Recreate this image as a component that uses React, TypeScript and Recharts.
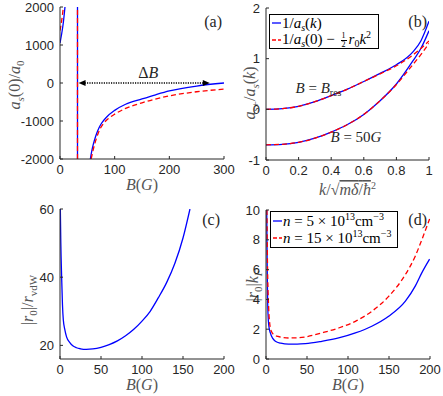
import React from "react";
import { LineChart, Line, XAxis, YAxis, ReferenceLine, ReferenceDot } from "recharts";

const BLUE = "#0000ff";
const RED = "#ff0000";
const INK = "#262626";
const TITLE = "#555555";
const SANS = "'Liberation Sans', Arial, sans-serif";
const SERIF = "'Liberation Serif', 'Times New Roman', serif";

// (a) a_s(0)/a_0 against B
const aTicksX = [0, 100, 200, 300];
const aTicksY = [-2000, -1000, 0, 1000, 2000];
const aResonance = 32;
const aWidthFrom = 34;
const aWidthTo = 274;
const aBlueLeftB = [0, 3, 6, 9.1];
const aBlueLeftVal = [1050, 1290, 1580, 2000];
const aRedLeftB = [0, 2, 4, 6.2];
const aRedLeftVal = [1380, 1540, 1740, 2000];
const aBlueRightB = [55.5, 58, 61, 64, 67, 71, 76, 85, 100, 120, 150, 175, 200, 250, 300];
const aBlueRightVal = [-2000, -1800, -1610, -1460, -1330, -1190, -1060, -900, -720, -560, -420, -310, -210, -80, 0];
const aRedRightB = [57, 60, 63, 67, 72, 80, 90, 100, 120, 150, 200, 250, 300];
const aRedRightVal = [-2000, -1800, -1630, -1440, -1250, -1060, -920, -820, -670, -520, -340, -230, -160];

// (b) a_s+/a_s(k) against k
const bTicksX = [0, 0.2, 0.4, 0.6, 0.8, 1];
const bTicksY = [-1, 0, 1, 2];
const bK = [0, 0.1, 0.2, 0.3, 0.4, 0.5, 0.6, 0.7, 0.8, 0.9, 0.95, 1];
const bResExact = [0, 0.015, 0.06, 0.15, 0.27, 0.4, 0.55, 0.71, 0.88, 1.13, 1.35, 1.74];
const bResApprox = [0, 0.015, 0.06, 0.15, 0.27, 0.4, 0.55, 0.7, 0.86, 1.07, 1.2, 1.35];
const b50Exact = [-0.7, -0.69, -0.65, -0.57, -0.45, -0.3, -0.1, 0.17, 0.5, 0.95, 1.2, 1.55];
const b50Approx = [-0.7, -0.69, -0.65, -0.57, -0.45, -0.3, -0.1, 0.17, 0.49, 0.88, 1.08, 1.3];

// (c) |r0|/r_vdW against B
const cTicksX = [0, 50, 100, 150, 200];
const cTicksY = [20, 40, 60];
const cB = [0.4, 1, 2, 3, 4, 6, 8, 12, 16, 20, 25, 32, 40, 50, 60, 70, 80, 90, 100, 110, 120, 130, 140, 150, 158.5];
const cR = [60, 50, 40, 32, 27.6, 24.5, 22.5, 20.8, 19.8, 19.3, 19.0, 18.85, 18.95, 19.4, 20.2, 21.3, 22.8, 24.7, 27.1, 30, 34, 38.4, 44, 51.5, 60];

// (d) |r0| kF against B
const dTicksX = [0, 50, 100, 150, 200];
const dTicksY = [0, 2, 4, 6, 8, 10];
const dLowB = [0.9, 1.5, 2.4, 3.5, 5.3, 8, 11.4, 18, 27.6, 38, 48, 68, 88.6, 109, 129, 149.6, 170, 182, 190, 199.5];
const dLowVal = [10, 6, 3.1, 2.2, 1.75, 1.4, 1.19, 1.06, 1.0, 1.0, 1.03, 1.19, 1.41, 1.75, 2.2, 2.87, 3.88, 4.89, 5.78, 6.7];
const dHighB = [1.1, 1.8, 3.2, 4.5, 6.5, 10, 14.6, 20, 27.6, 38, 48, 68, 88.6, 109, 129, 149.6, 170, 182, 190, 199.5];
const dHighVal = [10, 6.5, 3.5, 2.4, 1.86, 1.62, 1.52, 1.45, 1.41, 1.42, 1.48, 1.75, 2.08, 2.53, 3.2, 4.2, 5.67, 6.9, 8.0, 9.4];

const zip = (xs: number[], ys: number[]) => xs.map((x, i) => ({ x, y: ys[i] }));

const tickFont = { fill: INK, fontSize: 13, fontFamily: SANS };
const axisLook = { stroke: INK, tickSize: -3, tickMargin: 9, tick: tickFont, interval: 0 as const, allowDataOverflow: true };
const solid = { stroke: BLUE, strokeWidth: 1.3, dot: false, isAnimationActive: false, type: "monotone" as const, dataKey: "y" };
const dashed = { ...solid, stroke: RED, strokeDasharray: "5 3" };

// top and right edges of the MATLAB-style box, ticks pointing in
const boxAxes = (xd: number[], xt: number[], yd: number[], yt: number[]) => [
  <XAxis key="xt" xAxisId="top" orientation="top" type="number" dataKey="x" domain={xd} ticks={xt} height={0} tick={false} tickSize={-3} stroke={INK} allowDataOverflow />,
  <YAxis key="yr" yAxisId="right" orientation="right" type="number" domain={yd} ticks={yt} width={0} tick={false} tickSize={-3} stroke={INK} allowDataOverflow />,
];

const xTitle = (dy: number, body: React.ReactNode) => ({
  content: ({ viewBox }: any) => (
    <text x={viewBox.x + viewBox.width / 2} y={viewBox.y + dy} textAnchor="middle" fontFamily={SERIF} fontSize={16} fill={TITLE}>
      {body}
    </text>
  ),
});

const yTitle = (bx: number, shift: number, body: React.ReactNode) => ({
  content: ({ viewBox }: any) => {
    const cx = viewBox.x + bx;
    const cy = viewBox.y + viewBox.height / 2 + shift;
    return (
      <text x={cx} y={cy} transform={`rotate(-90 ${cx} ${cy})`} textAnchor="middle" fontFamily={SERIF} fontSize={16} fill={TITLE}>
        {body}
      </text>
    );
  },
});

const tag = (text: string, dx: number, dy: number) => (p: any) => (
  <text x={p.cx + dx} y={p.cy + dy} textAnchor="end" fontFamily={SERIF} fontSize={16} fill={INK}>
    {text}
  </text>
);

const note = (body: React.ReactNode) => (p: any) => (
  <text x={p.cx} y={p.cy} textAnchor="middle" fontFamily={SERIF} fontSize={15} fill={INK}>
    {body}
  </text>
);

const BG = (
  <>
    <tspan fontStyle="italic">B</tspan>(<tspan fontStyle="italic">G</tspan>)
  </>
);

const DeltaArrow = (p: any) => {
  const { x1, y1, x2, y2 } = p;
  return (
    <g>
      <line x1={x1 + 6} y1={y1} x2={x2 - 6} y2={y2} stroke="#000" strokeWidth={1.4} strokeDasharray="1.2 1.2" />
      <polygon points={`${x1},${y1} ${x1 + 7},${y1 - 3} ${x1 + 7},${y1 + 3}`} fill="#000" />
      <polygon points={`${x2},${y2} ${x2 - 7},${y2 - 3} ${x2 - 7},${y2 + 3}`} fill="#000" />
      <text x={(x1 + x2) / 2 + 4} y={y1 - 5} textAnchor="middle" fontFamily={SERIF} fontSize={16} fill={INK}>
        Δ<tspan fontStyle="italic">B</tspan>
      </text>
    </g>
  );
};

const Sample = ({ color, dash }: { color: string; dash?: string }) => (
  <svg width={9} height={6} style={{ marginRight: 1, flex: "none" }}>
    <line x1={0} y1={3} x2={9} y2={3} stroke={color} strokeWidth={1.3} strokeDasharray={dash} />
  </svg>
);

const Half = () => (
  <span style={{ display: "inline-flex", flexDirection: "column", alignItems: "center", fontSize: 8, lineHeight: "8px", fontStyle: "normal", margin: "0 2px", verticalAlign: "middle" }}>
    <span style={{ borderBottom: "1px solid #000", padding: "0 1px" }}>1</span>
    <span>2</span>
  </span>
);

const keyBox = (left: number, top: number, width: number, height: number): React.CSSProperties => ({
  position: "absolute",
  left,
  top,
  width,
  height,
  boxSizing: "border-box",
  border: "1px solid #000",
  background: "#fff",
  fontFamily: SERIF,
  fontSize: 15,
  color: "#000",
  display: "flex",
  flexDirection: "column",
  justifyContent: "space-around",
  padding: "0 2px",
  whiteSpace: "nowrap",
});
const row: React.CSSProperties = { display: "flex", alignItems: "center", height: 16, lineHeight: "16px" };
const sub: React.CSSProperties = { fontSize: 10, verticalAlign: "-3px", lineHeight: 0 };
const sup: React.CSSProperties = { fontSize: 10, verticalAlign: "6px", lineHeight: 0 };

function PanelA() {
  return (
    <div style={{ position: "absolute", left: 0, top: 0, width: 240, height: 200 }}>
      <LineChart width={240} height={200} margin={{ top: 7, right: 16, bottom: 0, left: 0 }}>
        <XAxis type="number" dataKey="x" domain={[0, 300]} ticks={aTicksX} height={41} {...axisLook} label={xTitle(31, BG)} />
        <YAxis type="number" domain={[-2000, 2000]} ticks={aTicksY} width={60} {...axisLook}
          label={yTitle(20, 2, (
            <>
              <tspan fontStyle="italic">a</tspan>
              <tspan fontStyle="italic" fontSize={11} dy={4}>s</tspan>
              <tspan dy={-4}>(0)/</tspan>
              <tspan fontStyle="italic">a</tspan>
              <tspan fontSize={11} dy={4}>0</tspan>
            </>
          ))} />
        {boxAxes([0, 300], aTicksX, [-2000, 2000], aTicksY)}
        <ReferenceLine x={aResonance} stroke={BLUE} strokeWidth={1.3} />
        <ReferenceLine x={aResonance} stroke={RED} strokeWidth={1.3} strokeDasharray="5 3" />
        <Line {...solid} data={zip(aBlueLeftB, aBlueLeftVal)} />
        <Line {...dashed} data={zip(aRedLeftB, aRedLeftVal)} />
        <Line {...solid} data={zip(aBlueRightB, aBlueRightVal)} />
        <Line {...dashed} data={zip(aRedRightB, aRedRightVal)} />
        <ReferenceLine segment={[{ x: aWidthFrom, y: 0 }, { x: aWidthTo, y: 0 }]} shape={DeltaArrow} />
        <ReferenceDot x={300} y={2000} r={0} ifOverflow="visible" shape={tag("(a)", -2, 20)} />
      </LineChart>
    </div>
  );
}

function PanelB() {
  return (
    <div style={{ position: "absolute", left: 222, top: 0, width: 218, height: 200 }}>
      <LineChart width={218} height={200} margin={{ top: 8, right: 11, bottom: 0, left: 0 }}>
        <XAxis type="number" dataKey="x" domain={[0, 1]} ticks={bTicksX} height={40} {...axisLook}
          label={xTitle(35, (
            <>
              <tspan fontStyle="italic">k</tspan>/√
              <tspan style={{ textDecoration: "overline" }}>
                <tspan fontStyle="italic">mδ</tspan>/<tspan fontStyle="italic">ħ</tspan>
              </tspan>
              <tspan fontSize={10} dy={-6}>2</tspan>
            </>
          ))} />
        <YAxis type="number" domain={[-1, 2]} ticks={bTicksY} width={44} {...axisLook}
          label={yTitle(33, 9, (
            <>
              <tspan fontStyle="italic">a</tspan>
              <tspan fontStyle="italic" fontSize={11} dy={4}>s</tspan>
              <tspan fontSize={11}>+</tspan>
              <tspan dy={-4}>/</tspan>
              <tspan fontStyle="italic">a</tspan>
              <tspan fontStyle="italic" fontSize={11} dy={4}>s</tspan>
              <tspan dy={-4}>(</tspan>
              <tspan fontStyle="italic">k</tspan>)
            </>
          ))} />
        {boxAxes([0, 1], bTicksX, [-1, 2], bTicksY)}
        <Line {...solid} data={zip(bK, bResExact)} />
        <Line {...solid} data={zip(bK, b50Exact)} />
        <Line {...dashed} data={zip(bK, bResApprox)} />
        <Line {...dashed} data={zip(bK, b50Approx)} />
        <ReferenceDot x={0.322} y={0.32} r={0} ifOverflow="visible"
          shape={note(<><tspan fontStyle="italic">B</tspan> = <tspan fontStyle="italic">B</tspan><tspan fontSize={10} dy={3}>res</tspan></>)} />
        <ReferenceDot x={0.552} y={-0.645} r={0} ifOverflow="visible"
          shape={note(<><tspan fontStyle="italic">B</tspan> = 50<tspan fontStyle="italic">G</tspan></>)} />
        <ReferenceDot x={1} y={2} r={0} ifOverflow="visible" shape={tag("(b)", -2, 19)} />
      </LineChart>
      <div style={keyBox(47, 14, 110, 35)}>
        <div style={row}>
          <Sample color={BLUE} />
          <span>1/<i>a</i><i style={sub}>s</i>(<i>k</i>)</span>
        </div>
        <div style={row}>
          <Sample color={RED} dash="4 2" />
          <span>1/<i>a</i><i style={sub}>s</i>(0) − <Half /><i>r</i><span style={sub}>0</span><i>k</i><span style={sup}>2</span></span>
        </div>
      </div>
    </div>
  );
}

function PanelC() {
  return (
    <div style={{ position: "absolute", left: 0, top: 200, width: 240, height: 196 }}>
      <LineChart width={240} height={196} margin={{ top: 9, right: 16, bottom: 0, left: 0 }}>
        <XAxis type="number" dataKey="x" domain={[0, 200]} ticks={cTicksX} height={37} {...axisLook} label={xTitle(31, BG)} />
        <YAxis type="number" domain={[16, 60]} ticks={cTicksY} width={60} {...axisLook}
          label={yTitle(33, 16, (
            <>
              |<tspan fontStyle="italic">r</tspan>
              <tspan fontSize={11} dy={4}>0</tspan>
              <tspan dy={-4}>|/</tspan>
              <tspan fontStyle="italic">r</tspan>
              <tspan fontSize={11} dy={4}>vdW</tspan>
            </>
          ))} />
        {boxAxes([0, 200], cTicksX, [16, 60], cTicksY)}
        <Line {...solid} data={zip(cB, cR)} />
        <ReferenceDot x={200} y={60} r={0} ifOverflow="visible" shape={tag("(c)", -4, 16)} />
      </LineChart>
    </div>
  );
}

function PanelD() {
  return (
    <div style={{ position: "absolute", left: 222, top: 200, width: 221, height: 196 }}>
      <LineChart width={221} height={196} margin={{ top: 10, right: 13, bottom: 0, left: 0 }}>
        <XAxis type="number" dataKey="x" domain={[0, 200]} ticks={dTicksX} height={37} {...axisLook} label={xTitle(31, BG)} />
        <YAxis type="number" domain={[0, 10]} ticks={dTicksY} width={44} {...axisLook}
          label={yTitle(36, 1, (
            <>
              |<tspan fontStyle="italic">r</tspan>
              <tspan fontSize={11} dy={4}>0</tspan>
              <tspan dy={-4}>|</tspan>
              <tspan fontStyle="italic">k</tspan>
              <tspan fontStyle="italic" fontSize={11} dy={4}>F</tspan>
            </>
          ))} />
        {boxAxes([0, 200], dTicksX, [0, 10], dTicksY)}
        <Line {...solid} data={zip(dLowB, dLowVal)} />
        <Line {...dashed} data={zip(dHighB, dHighVal)} />
        <ReferenceDot x={200} y={10} r={0} ifOverflow="visible" shape={tag("(d)", -3, 15)} />
      </LineChart>
      <div style={keyBox(48, 11, 128, 37)}>
        <div style={row}>
          <Sample color={BLUE} />
          <span><i>n</i> = 5 × 10<span style={sup}>13</span>cm<span style={sup}>−3</span></span>
        </div>
        <div style={row}>
          <Sample color={RED} dash="4 2" />
          <span><i>n</i> = 15 × 10<span style={sup}>13</span>cm<span style={sup}>−3</span></span>
        </div>
      </div>
    </div>
  );
}

export default function App() {
  return (
    <div style={{ position: "absolute", left: 0, top: 0, width: 443, height: 396, background: "#fff" }}>
      <PanelA />
      <PanelB />
      <PanelC />
      <PanelD />
    </div>
  );
}
